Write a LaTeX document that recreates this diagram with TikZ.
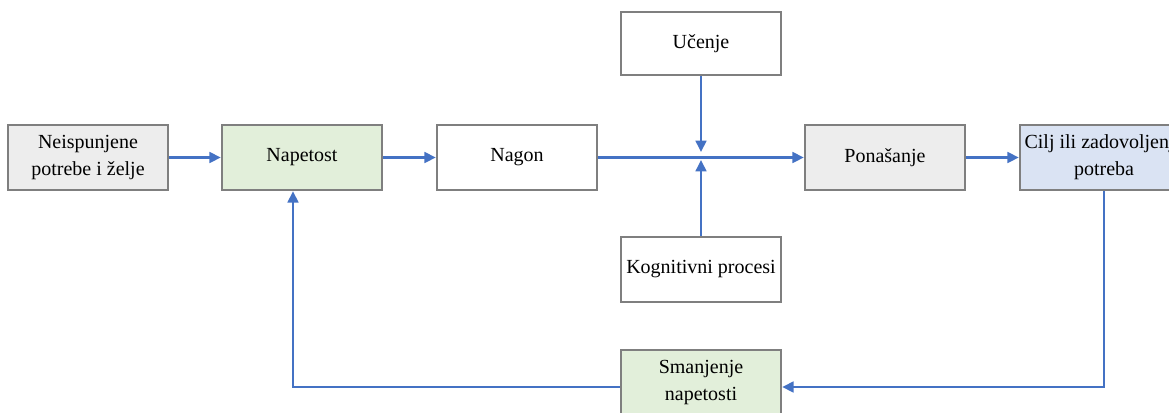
\documentclass[tikz,border=0pt]{standalone}
\usepackage{fontspec}
\setmainfont{Liberation Serif}
\usetikzlibrary{arrows.meta}
\definecolor{boxline}{HTML}{7F7F7F}
\definecolor{grayfill}{HTML}{EDEDED}
\definecolor{greenfill}{HTML}{E2EFDA}
\definecolor{bluefill}{HTML}{DAE3F3}
\definecolor{flow}{HTML}{4472C4}
\begin{document}
\begin{tikzpicture}[x=0.75pt,y=-0.75pt,
  box/.style={draw=boxline,line width=1.8pt,minimum width=120pt,minimum height=48.75pt,
    inner sep=0pt,align=center,font=\fontsize{15}{20.5}\selectfont},
  arr/.style={draw=flow,line width=1.9pt,-{Triangle[length=8.5pt,width=8pt]}}]
\useasboundingbox (0,0) rectangle (1169,412);
\begin{scope}
\clip (0,0) rectangle (1169,412);
% main row
\node[box,fill=grayfill]  (need)  at (88,157.5)  {Neispunjene\\potrebe i želje};
\node[box,fill=greenfill] (nap)   at (302,157.5) {Napetost};
\node[box,fill=white]     (nagon) at (517,157.5) {Nagon};
\node[box,fill=grayfill]  (pon)   at (885,157.5) {Ponašanje};
\node[box,fill=bluefill,minimum width=126pt] (cilj) at (1104,157.5) {Cilj ili zadovoljenje\\potreba};
% influences on the drive
\node[box,fill=white,minimum height=47.25pt] (uc)  at (701,43.5)  {Učenje};
\node[box,fill=white] (kog) at (701,269.5) {Kognitivni procesi};
% feedback
\node[box,fill=greenfill] (sman) at (701,382.5) {Smanjenje\\napetosti};

\coordinate (jtop) at (701,152);
\coordinate (jbot) at (701,160);
\coordinate (fb) at (0,387);
\coordinate (fbx) at (293,0);

\draw[arr] (need.east) -- (nap.west);
\draw[arr] (nap.east) -- (nagon.west);
\draw[arr] (nagon.east) -- (pon.west);
\draw[arr] (pon.east) -- (cilj.west);
\draw[arr] (uc.south) -- (jtop);
\draw[arr] (kog.north) -- (jbot);
\draw[arr] (cilj.south) |- (sman.east |- fb);
\draw[arr] (sman.west |- fb) -| (nap.south -| fbx);
\end{scope}
\end{tikzpicture}
\end{document}
